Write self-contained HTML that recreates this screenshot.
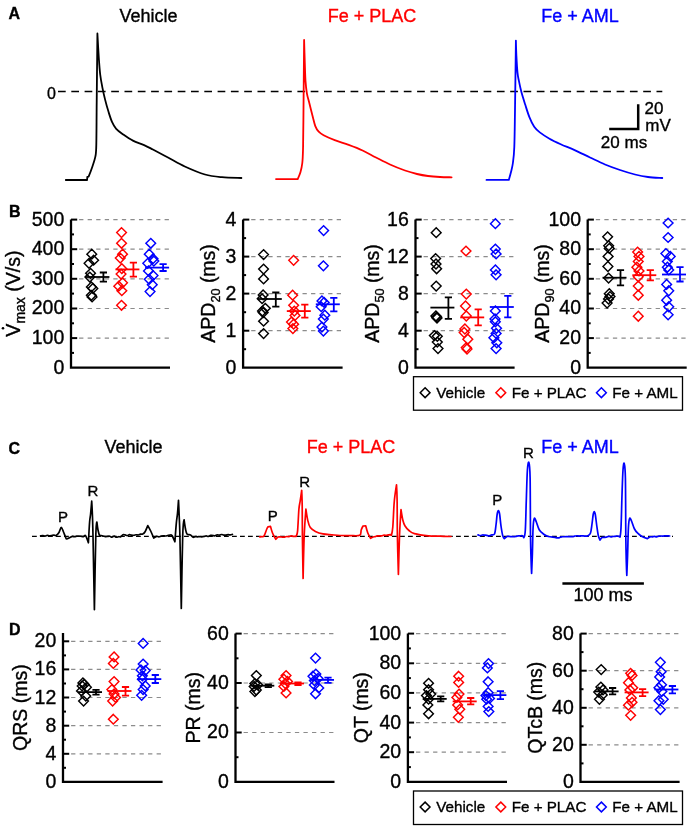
<!DOCTYPE html>
<html><head><meta charset="utf-8"><style>
html,body{margin:0;padding:0;background:#fff;}
svg{display:block;font-family:"Liberation Sans",sans-serif;will-change:transform;}
</style></head><body>
<svg width="689" height="827" viewBox="0 0 689 827">
<rect width="689" height="827" fill="#fff"/>
<text x="8.6" y="19.2" font-size="16" fill="#000" stroke="#000" stroke-width="0.35" text-anchor="start" font-weight="bold" >A</text>
<text x="148.5" y="22" font-size="18" fill="#000" stroke="#000" stroke-width="0.35" text-anchor="middle" font-weight="normal" >Vehicle</text>
<text x="372" y="22" font-size="18" fill="#ff0000" stroke="#ff0000" stroke-width="0.35" text-anchor="middle" font-weight="normal" >Fe + PLAC</text>
<text x="580" y="22" font-size="18" fill="#0000ff" stroke="#0000ff" stroke-width="0.35" text-anchor="middle" font-weight="normal" >Fe + AML</text>
<text x="51.5" y="98.5" font-size="16" fill="#000" stroke="#000" stroke-width="0.35" text-anchor="middle" font-weight="normal" >0</text>
<line x1="58" y1="91.6" x2="662.3" y2="91.6" stroke="#000" stroke-width="1.5" stroke-dasharray="7.7 5.6"/>
<path d="M65.80 180.00C65.80 180.00 87.10 180.00 87.10 180.00C87.10 180.00 87.30 177.00 87.30 177.00C87.30 177.00 88.60 176.70 88.60 176.70C88.60 176.70 90.77 171.38 91.90 168.00C93.03 164.62 94.67 160.27 95.40 156.40C96.13 152.53 96.08 153.82 96.30 144.80C96.52 135.78 96.52 120.85 96.70 102.30C96.88 83.75 97.40 33.50 97.40 33.50C97.40 33.50 98.33 50.97 98.80 57.80C99.27 64.63 99.62 69.62 100.20 74.50C100.78 79.38 101.48 82.92 102.30 87.10C103.12 91.28 104.05 95.43 105.10 99.60C106.15 103.77 107.45 108.40 108.60 112.10C109.75 115.80 110.73 119.02 112.00 121.80C113.27 124.58 114.33 126.70 116.20 128.80C118.07 130.90 120.42 132.43 123.20 134.40C125.98 136.37 129.42 138.82 132.90 140.60C136.38 142.38 140.77 143.62 144.10 145.10C147.43 146.58 148.92 147.43 152.90 149.50C156.88 151.57 162.68 154.67 168.00 157.50C173.32 160.33 178.63 163.67 184.80 166.50C190.97 169.33 198.80 172.72 205.00 174.50C211.20 176.28 215.93 176.62 222.00 177.20C228.07 177.78 238.17 177.87 241.40 178.00" fill="none" stroke="#000000" stroke-width="1.8" stroke-linejoin="round" stroke-linecap="round"/>
<path d="M276.00 179.10C276.00 179.10 297.70 179.10 297.70 179.10C297.70 179.10 299.73 174.68 300.50 172.00C301.27 169.32 301.88 166.67 302.30 163.00C302.72 159.33 302.82 157.17 303.00 150.00C303.18 142.83 303.22 138.35 303.40 120.00C303.58 101.65 304.10 39.90 304.10 39.90C304.10 39.90 304.57 55.97 304.80 62.80C305.03 69.63 305.15 75.80 305.50 80.90C305.85 86.00 306.32 89.92 306.90 93.40C307.48 96.88 308.07 98.08 309.00 101.80C309.93 105.52 311.45 111.65 312.50 115.70C313.55 119.75 314.27 123.43 315.30 126.10C316.33 128.77 317.32 130.18 318.70 131.70C320.08 133.22 320.93 133.80 323.60 135.20C326.27 136.60 330.52 138.48 334.70 140.10C338.88 141.72 344.05 143.17 348.70 144.90C353.35 146.63 358.05 148.40 362.60 150.50C367.15 152.60 371.43 155.17 376.00 157.50C380.57 159.83 385.17 162.33 390.00 164.50C394.83 166.67 400.50 168.92 405.00 170.50C409.50 172.08 413.17 173.08 417.00 174.00C420.83 174.92 424.17 175.50 428.00 176.00C431.83 176.50 436.07 176.78 440.00 177.00C443.93 177.22 449.67 177.25 451.60 177.30" fill="none" stroke="#ff0000" stroke-width="1.8" stroke-linejoin="round" stroke-linecap="round"/>
<path d="M486.50 179.90C486.50 179.90 508.80 179.90 508.80 179.90C508.80 179.90 510.32 174.82 511.00 172.00C511.68 169.18 512.35 167.17 512.90 163.00C513.45 158.83 513.95 155.83 514.30 147.00C514.65 138.17 514.73 127.73 515.00 110.00C515.27 92.27 515.90 40.60 515.90 40.60C515.90 40.60 516.13 50.57 516.40 55.90C516.67 61.23 517.08 68.43 517.50 72.60C517.92 76.77 518.25 77.65 518.90 80.90C519.55 84.15 520.35 88.15 521.40 92.10C522.45 96.05 523.87 100.43 525.20 104.60C526.53 108.77 527.90 113.40 529.40 117.10C530.90 120.80 532.47 124.25 534.20 126.80C535.93 129.35 537.25 130.42 539.80 132.40C542.35 134.38 546.02 136.73 549.50 138.70C552.98 140.67 556.52 142.30 560.70 144.20C564.88 146.10 569.72 147.88 574.60 150.10C579.48 152.32 584.93 155.10 590.00 157.50C595.07 159.90 600.00 162.42 605.00 164.50C610.00 166.58 615.00 168.33 620.00 170.00C625.00 171.67 630.33 173.33 635.00 174.50C639.67 175.67 643.45 176.42 648.00 177.00C652.55 177.58 659.92 177.83 662.30 178.00" fill="none" stroke="#0000ff" stroke-width="1.8" stroke-linejoin="round" stroke-linecap="round"/>
<path d="M609.2 129 H638.2 V104.3" fill="none" stroke="#000" stroke-width="2.5"/>
<text x="654" y="114" font-size="17" fill="#000" stroke="#000" stroke-width="0.35" text-anchor="middle" font-weight="normal" >20</text>
<text x="658" y="131" font-size="17" fill="#000" stroke="#000" stroke-width="0.35" text-anchor="middle" font-weight="normal" >mV</text>
<text x="624" y="147.5" font-size="17" fill="#000" stroke="#000" stroke-width="0.35" text-anchor="middle" font-weight="normal" >20 ms</text>
<line x1="79.1" y1="338.1" x2="170.0" y2="338.1" stroke="#8c8c8c" stroke-width="1.2" stroke-dasharray="4.3 4.25"/>
<line x1="79.1" y1="308.5" x2="170.0" y2="308.5" stroke="#8c8c8c" stroke-width="1.2" stroke-dasharray="4.3 4.25"/>
<line x1="79.1" y1="278.8" x2="170.0" y2="278.8" stroke="#8c8c8c" stroke-width="1.2" stroke-dasharray="4.3 4.25"/>
<line x1="79.1" y1="249.2" x2="170.0" y2="249.2" stroke="#8c8c8c" stroke-width="1.2" stroke-dasharray="4.3 4.25"/>
<line x1="79.1" y1="219.6" x2="170.0" y2="219.6" stroke="#8c8c8c" stroke-width="1.2" stroke-dasharray="4.3 4.25"/>
<path d="M91.8 249.3L96.6 254.2L91.8 259.0L86.9 254.2Z" fill="none" stroke="#000000" stroke-width="1.45"/>
<path d="M93.6 255.4L98.5 260.3L93.6 265.1L88.8 260.3Z" fill="none" stroke="#000000" stroke-width="1.45"/>
<path d="M89.0 258.5L93.9 263.3L89.0 268.2L84.2 263.3Z" fill="none" stroke="#000000" stroke-width="1.45"/>
<path d="M90.6 268.4L95.4 273.2L90.6 278.1L85.7 273.2Z" fill="none" stroke="#000000" stroke-width="1.45"/>
<path d="M89.8 272.2L94.7 277.1L89.8 281.9L85.0 277.1Z" fill="none" stroke="#000000" stroke-width="1.45"/>
<path d="M91.3 282.1L96.2 287.0L91.3 291.8L86.5 287.0Z" fill="none" stroke="#000000" stroke-width="1.45"/>
<path d="M92.9 283.6L97.7 288.5L92.9 293.3L88.0 288.5Z" fill="none" stroke="#000000" stroke-width="1.45"/>
<path d="M91.3 290.5L96.2 295.3L91.3 300.2L86.5 295.3Z" fill="none" stroke="#000000" stroke-width="1.45"/>
<path d="M92.1 292.0L96.9 296.9L92.1 301.7L87.2 296.9Z" fill="none" stroke="#000000" stroke-width="1.45"/>
<line x1="85.4" y1="277.0" x2="109.4" y2="277.0" stroke="#000000" stroke-width="1.8"/>
<path d="M103.4 272.5V281.6M99.8 272.5H107.0M99.8 281.6H107.0" stroke="#000000" stroke-width="1.8" fill="none"/>
<path d="M121.5 227.7L126.4 232.6L121.5 237.4L116.7 232.6Z" fill="none" stroke="#ff0000" stroke-width="1.45"/>
<path d="M121.5 238.4L126.4 243.2L121.5 248.1L116.7 243.2Z" fill="none" stroke="#ff0000" stroke-width="1.45"/>
<path d="M122.6 249.3L127.4 254.2L122.6 259.0L117.7 254.2Z" fill="none" stroke="#ff0000" stroke-width="1.45"/>
<path d="M120.3 253.2L125.1 258.0L120.3 262.9L115.4 258.0Z" fill="none" stroke="#ff0000" stroke-width="1.45"/>
<path d="M121.8 263.8L126.7 268.7L121.8 273.5L117.0 268.7Z" fill="none" stroke="#ff0000" stroke-width="1.45"/>
<path d="M121.1 269.2L125.9 274.0L121.1 278.9L116.2 274.0Z" fill="none" stroke="#ff0000" stroke-width="1.45"/>
<path d="M122.6 278.0L127.4 282.8L122.6 287.7L117.7 282.8Z" fill="none" stroke="#ff0000" stroke-width="1.45"/>
<path d="M118.8 281.3L123.6 286.2L118.8 291.0L113.9 286.2Z" fill="none" stroke="#ff0000" stroke-width="1.45"/>
<path d="M121.8 285.9L126.7 290.8L121.8 295.6L117.0 290.8Z" fill="none" stroke="#ff0000" stroke-width="1.45"/>
<path d="M121.5 300.4L126.4 305.2L121.5 310.1L116.7 305.2Z" fill="none" stroke="#ff0000" stroke-width="1.45"/>
<line x1="115.4" y1="269.4" x2="139.4" y2="269.4" stroke="#ff0000" stroke-width="1.8"/>
<path d="M133.4 262.6V276.7M129.8 262.6H137.0M129.8 276.7H137.0" stroke="#ff0000" stroke-width="1.8" fill="none"/>
<path d="M150.8 238.4L155.6 243.2L150.8 248.1L145.9 243.2Z" fill="none" stroke="#0000ff" stroke-width="1.45"/>
<path d="M149.2 249.3L154.1 254.2L149.2 259.0L144.4 254.2Z" fill="none" stroke="#0000ff" stroke-width="1.45"/>
<path d="M153.1 253.9L157.9 258.8L153.1 263.6L148.2 258.8Z" fill="none" stroke="#0000ff" stroke-width="1.45"/>
<path d="M147.7 258.5L152.6 263.3L147.7 268.2L142.9 263.3Z" fill="none" stroke="#0000ff" stroke-width="1.45"/>
<path d="M153.8 256.2L158.7 261.1L153.8 265.9L149.0 261.1Z" fill="none" stroke="#0000ff" stroke-width="1.45"/>
<path d="M148.5 266.1L153.3 271.0L148.5 275.8L143.6 271.0Z" fill="none" stroke="#0000ff" stroke-width="1.45"/>
<path d="M153.1 270.7L157.9 275.5L153.1 280.4L148.2 275.5Z" fill="none" stroke="#0000ff" stroke-width="1.45"/>
<path d="M149.2 274.5L154.1 279.3L149.2 284.2L144.4 279.3Z" fill="none" stroke="#0000ff" stroke-width="1.45"/>
<path d="M152.3 279.8L157.1 284.7L152.3 289.5L147.4 284.7Z" fill="none" stroke="#0000ff" stroke-width="1.45"/>
<path d="M150.0 286.7L154.9 291.5L150.0 296.4L145.2 291.5Z" fill="none" stroke="#0000ff" stroke-width="1.45"/>
<line x1="145.1" y1="267.6" x2="169.1" y2="267.6" stroke="#0000ff" stroke-width="1.8"/>
<path d="M163.1 264.1V271.0M159.5 264.1H166.7M159.5 271.0H166.7" stroke="#0000ff" stroke-width="1.8" fill="none"/>
<path d="M71.0 219.6V367.7H170.0" fill="none" stroke="#000" stroke-width="2.3"/>
<text x="64.3" y="373.7" font-size="19.5" fill="#000" stroke="#000" stroke-width="0.35" text-anchor="end" font-weight="normal" >0</text>
<line x1="71.0" y1="338.1" x2="77.2" y2="338.1" stroke="#000" stroke-width="2"/>
<text x="64.3" y="344.08" font-size="19.5" fill="#000" stroke="#000" stroke-width="0.35" text-anchor="end" font-weight="normal" >100</text>
<line x1="71.0" y1="308.5" x2="77.2" y2="308.5" stroke="#000" stroke-width="2"/>
<text x="64.3" y="314.46" font-size="19.5" fill="#000" stroke="#000" stroke-width="0.35" text-anchor="end" font-weight="normal" >200</text>
<line x1="71.0" y1="278.8" x2="77.2" y2="278.8" stroke="#000" stroke-width="2"/>
<text x="64.3" y="284.84000000000003" font-size="19.5" fill="#000" stroke="#000" stroke-width="0.35" text-anchor="end" font-weight="normal" >300</text>
<line x1="71.0" y1="249.2" x2="77.2" y2="249.2" stroke="#000" stroke-width="2"/>
<text x="64.3" y="255.22" font-size="19.5" fill="#000" stroke="#000" stroke-width="0.35" text-anchor="end" font-weight="normal" >400</text>
<line x1="71.0" y1="219.6" x2="77.2" y2="219.6" stroke="#000" stroke-width="2"/>
<text x="64.3" y="225.6" font-size="19.5" fill="#000" stroke="#000" stroke-width="0.35" text-anchor="end" font-weight="normal" >500</text>
<line x1="71.0" y1="352.9" x2="74.0" y2="352.9" stroke="#000" stroke-width="2"/>
<line x1="71.0" y1="323.3" x2="74.0" y2="323.3" stroke="#000" stroke-width="2"/>
<line x1="71.0" y1="293.6" x2="74.0" y2="293.6" stroke="#000" stroke-width="2"/>
<line x1="71.0" y1="264.0" x2="74.0" y2="264.0" stroke="#000" stroke-width="2"/>
<line x1="71.0" y1="234.4" x2="74.0" y2="234.4" stroke="#000" stroke-width="2"/>
<line x1="251.2" y1="330.7" x2="342.6" y2="330.7" stroke="#8c8c8c" stroke-width="1.2" stroke-dasharray="4.3 4.25"/>
<line x1="251.2" y1="293.6" x2="342.6" y2="293.6" stroke="#8c8c8c" stroke-width="1.2" stroke-dasharray="4.3 4.25"/>
<line x1="251.2" y1="256.6" x2="342.6" y2="256.6" stroke="#8c8c8c" stroke-width="1.2" stroke-dasharray="4.3 4.25"/>
<line x1="251.2" y1="219.6" x2="342.6" y2="219.6" stroke="#8c8c8c" stroke-width="1.2" stroke-dasharray="4.3 4.25"/>
<path d="M263.6 249.7L268.4 254.5L263.6 259.4L258.7 254.5Z" fill="none" stroke="#000000" stroke-width="1.45"/>
<path d="M263.6 264.2L268.4 269.0L263.6 273.9L258.7 269.0Z" fill="none" stroke="#000000" stroke-width="1.45"/>
<path d="M263.6 274.0L268.4 278.9L263.6 283.7L258.7 278.9Z" fill="none" stroke="#000000" stroke-width="1.45"/>
<path d="M263.1 290.0L268.0 294.9L263.1 299.7L258.3 294.9Z" fill="none" stroke="#000000" stroke-width="1.45"/>
<path d="M262.1 293.9L267.0 298.8L262.1 303.6L257.3 298.8Z" fill="none" stroke="#000000" stroke-width="1.45"/>
<path d="M265.3 303.4L270.2 308.2L265.3 313.1L260.5 308.2Z" fill="none" stroke="#000000" stroke-width="1.45"/>
<path d="M262.4 306.3L267.3 311.1L262.4 316.0L257.6 311.1Z" fill="none" stroke="#000000" stroke-width="1.45"/>
<path d="M263.1 307.7L268.0 312.6L263.1 317.4L258.3 312.6Z" fill="none" stroke="#000000" stroke-width="1.45"/>
<path d="M263.6 316.4L268.4 321.3L263.6 326.1L258.7 321.3Z" fill="none" stroke="#000000" stroke-width="1.45"/>
<path d="M263.6 328.8L268.4 333.6L263.6 338.5L258.7 333.6Z" fill="none" stroke="#000000" stroke-width="1.45"/>
<line x1="257.8" y1="299.0" x2="281.8" y2="299.0" stroke="#000000" stroke-width="1.8"/>
<path d="M275.8 292.5V306.6M272.2 292.5H279.4M272.2 306.6H279.4" stroke="#000000" stroke-width="1.8" fill="none"/>
<path d="M293.6 255.5L298.5 260.3L293.6 265.2L288.8 260.3Z" fill="none" stroke="#ff0000" stroke-width="1.45"/>
<path d="M292.6 290.3L297.5 295.2L292.6 300.0L287.8 295.2Z" fill="none" stroke="#ff0000" stroke-width="1.45"/>
<path d="M293.6 300.5L298.5 305.3L293.6 310.2L288.8 305.3Z" fill="none" stroke="#ff0000" stroke-width="1.45"/>
<path d="M294.3 306.3L299.2 311.1L294.3 316.0L289.5 311.1Z" fill="none" stroke="#ff0000" stroke-width="1.45"/>
<path d="M295.1 310.6L299.9 315.5L295.1 320.3L290.2 315.5Z" fill="none" stroke="#ff0000" stroke-width="1.45"/>
<path d="M291.4 317.2L296.3 322.0L291.4 326.9L286.6 322.0Z" fill="none" stroke="#ff0000" stroke-width="1.45"/>
<path d="M293.6 319.3L298.5 324.2L293.6 329.0L288.8 324.2Z" fill="none" stroke="#ff0000" stroke-width="1.45"/>
<path d="M292.9 323.7L297.7 328.5L292.9 333.4L288.0 328.5Z" fill="none" stroke="#ff0000" stroke-width="1.45"/>
<line x1="286.8" y1="311.1" x2="310.8" y2="311.1" stroke="#ff0000" stroke-width="1.8"/>
<path d="M304.8 304.6V317.6M301.2 304.6H308.4M301.2 317.6H308.4" stroke="#ff0000" stroke-width="1.8" fill="none"/>
<path d="M323.6 225.8L328.5 230.6L323.6 235.4L318.8 230.6Z" fill="none" stroke="#0000ff" stroke-width="1.45"/>
<path d="M323.4 261.0L328.2 265.8L323.4 270.7L318.5 265.8Z" fill="none" stroke="#0000ff" stroke-width="1.45"/>
<path d="M321.9 296.1L326.8 301.0L321.9 305.8L317.1 301.0Z" fill="none" stroke="#0000ff" stroke-width="1.45"/>
<path d="M324.1 297.6L329.0 302.4L324.1 307.3L319.3 302.4Z" fill="none" stroke="#0000ff" stroke-width="1.45"/>
<path d="M321.2 301.9L326.0 306.8L321.2 311.6L316.3 306.8Z" fill="none" stroke="#0000ff" stroke-width="1.45"/>
<path d="M324.8 310.3L329.7 315.2L324.8 320.0L320.0 315.2Z" fill="none" stroke="#0000ff" stroke-width="1.45"/>
<path d="M323.4 314.3L328.2 319.1L323.4 324.0L318.5 319.1Z" fill="none" stroke="#0000ff" stroke-width="1.45"/>
<path d="M321.9 322.2L326.8 327.1L321.9 331.9L317.1 327.1Z" fill="none" stroke="#0000ff" stroke-width="1.45"/>
<path d="M323.4 326.3L328.2 331.1L323.4 336.0L318.5 331.1Z" fill="none" stroke="#0000ff" stroke-width="1.45"/>
<line x1="315.8" y1="304.3" x2="339.8" y2="304.3" stroke="#0000ff" stroke-width="1.8"/>
<path d="M333.8 297.8V311.4M330.2 297.8H337.4M330.2 311.4H337.4" stroke="#0000ff" stroke-width="1.8" fill="none"/>
<path d="M243.1 219.6V367.7H342.6" fill="none" stroke="#000" stroke-width="2.3"/>
<text x="236.4" y="373.7" font-size="19.5" fill="#000" stroke="#000" stroke-width="0.35" text-anchor="end" font-weight="normal" >0</text>
<line x1="243.1" y1="330.7" x2="249.3" y2="330.7" stroke="#000" stroke-width="2"/>
<text x="236.4" y="336.675" font-size="19.5" fill="#000" stroke="#000" stroke-width="0.35" text-anchor="end" font-weight="normal" >1</text>
<line x1="243.1" y1="293.6" x2="249.3" y2="293.6" stroke="#000" stroke-width="2"/>
<text x="236.4" y="299.65" font-size="19.5" fill="#000" stroke="#000" stroke-width="0.35" text-anchor="end" font-weight="normal" >2</text>
<line x1="243.1" y1="256.6" x2="249.3" y2="256.6" stroke="#000" stroke-width="2"/>
<text x="236.4" y="262.625" font-size="19.5" fill="#000" stroke="#000" stroke-width="0.35" text-anchor="end" font-weight="normal" >3</text>
<line x1="243.1" y1="219.6" x2="249.3" y2="219.6" stroke="#000" stroke-width="2"/>
<text x="236.4" y="225.6" font-size="19.5" fill="#000" stroke="#000" stroke-width="0.35" text-anchor="end" font-weight="normal" >4</text>
<line x1="243.1" y1="349.2" x2="246.1" y2="349.2" stroke="#000" stroke-width="2"/>
<line x1="243.1" y1="312.2" x2="246.1" y2="312.2" stroke="#000" stroke-width="2"/>
<line x1="243.1" y1="275.1" x2="246.1" y2="275.1" stroke="#000" stroke-width="2"/>
<line x1="243.1" y1="238.1" x2="246.1" y2="238.1" stroke="#000" stroke-width="2"/>
<line x1="423.6" y1="330.7" x2="514.6" y2="330.7" stroke="#8c8c8c" stroke-width="1.2" stroke-dasharray="4.3 4.25"/>
<line x1="423.6" y1="293.6" x2="514.6" y2="293.6" stroke="#8c8c8c" stroke-width="1.2" stroke-dasharray="4.3 4.25"/>
<line x1="423.6" y1="256.6" x2="514.6" y2="256.6" stroke="#8c8c8c" stroke-width="1.2" stroke-dasharray="4.3 4.25"/>
<line x1="423.6" y1="219.6" x2="514.6" y2="219.6" stroke="#8c8c8c" stroke-width="1.2" stroke-dasharray="4.3 4.25"/>
<path d="M436.2 227.8L441.1 232.7L436.2 237.5L431.3 232.7Z" fill="none" stroke="#000000" stroke-width="1.45"/>
<path d="M435.6 253.7L440.5 258.5L435.6 263.4L430.8 258.5Z" fill="none" stroke="#000000" stroke-width="1.45"/>
<path d="M436.0 259.1L440.9 264.0L436.0 268.9L431.1 264.0Z" fill="none" stroke="#000000" stroke-width="1.45"/>
<path d="M436.6 263.8L441.5 268.7L436.6 273.6L431.8 268.7Z" fill="none" stroke="#000000" stroke-width="1.45"/>
<path d="M436.2 281.2L441.1 286.1L436.2 291.0L431.3 286.1Z" fill="none" stroke="#000000" stroke-width="1.45"/>
<path d="M435.9 311.1L440.8 316.0L435.9 320.9L431.0 316.0Z" fill="none" stroke="#000000" stroke-width="1.45"/>
<path d="M436.6 312.2L441.5 317.1L436.6 322.0L431.8 317.1Z" fill="none" stroke="#000000" stroke-width="1.45"/>
<path d="M437.0 313.2L441.9 318.1L437.0 323.0L432.1 318.1Z" fill="none" stroke="#000000" stroke-width="1.45"/>
<path d="M434.4 330.8L439.2 335.6L434.4 340.5L429.5 335.6Z" fill="none" stroke="#000000" stroke-width="1.45"/>
<path d="M437.3 331.4L442.2 336.3L437.3 341.2L432.4 336.3Z" fill="none" stroke="#000000" stroke-width="1.45"/>
<path d="M437.3 337.2L442.2 342.1L437.3 347.0L432.4 342.1Z" fill="none" stroke="#000000" stroke-width="1.45"/>
<path d="M438.0 343.8L442.9 348.6L438.0 353.5L433.1 348.6Z" fill="none" stroke="#000000" stroke-width="1.45"/>
<line x1="430.4" y1="307.6" x2="454.4" y2="307.6" stroke="#000000" stroke-width="1.8"/>
<path d="M448.4 297.4V318.9M444.8 297.4H452.0M444.8 318.9H452.0" stroke="#000000" stroke-width="1.8" fill="none"/>
<path d="M466.0 246.2L470.9 251.0L466.0 255.8L461.1 251.0Z" fill="none" stroke="#ff0000" stroke-width="1.45"/>
<path d="M466.3 289.2L471.2 294.1L466.3 299.0L461.4 294.1Z" fill="none" stroke="#ff0000" stroke-width="1.45"/>
<path d="M465.5 301.1L470.4 306.0L465.5 310.9L460.6 306.0Z" fill="none" stroke="#ff0000" stroke-width="1.45"/>
<path d="M466.3 311.1L471.2 316.0L466.3 320.9L461.4 316.0Z" fill="none" stroke="#ff0000" stroke-width="1.45"/>
<path d="M464.9 324.1L469.8 329.0L464.9 333.9L460.0 329.0Z" fill="none" stroke="#ff0000" stroke-width="1.45"/>
<path d="M464.2 327.6L469.1 332.5L464.2 337.4L459.3 332.5Z" fill="none" stroke="#ff0000" stroke-width="1.45"/>
<path d="M467.8 334.3L472.7 339.2L467.8 344.1L462.9 339.2Z" fill="none" stroke="#ff0000" stroke-width="1.45"/>
<path d="M466.3 342.8L471.2 347.6L466.3 352.5L461.4 347.6Z" fill="none" stroke="#ff0000" stroke-width="1.45"/>
<path d="M467.0 344.1L471.9 349.0L467.0 353.9L462.1 349.0Z" fill="none" stroke="#ff0000" stroke-width="1.45"/>
<line x1="460.2" y1="317.4" x2="484.2" y2="317.4" stroke="#ff0000" stroke-width="1.8"/>
<path d="M478.2 309.4V325.4M474.6 309.4H481.8M474.6 325.4H481.8" stroke="#ff0000" stroke-width="1.8" fill="none"/>
<path d="M495.4 218.8L500.2 223.7L495.4 228.5L490.5 223.7Z" fill="none" stroke="#0000ff" stroke-width="1.45"/>
<path d="M495.4 244.2L500.2 249.1L495.4 253.9L490.5 249.1Z" fill="none" stroke="#0000ff" stroke-width="1.45"/>
<path d="M496.1 249.1L501.0 253.9L496.1 258.8L491.2 253.9Z" fill="none" stroke="#0000ff" stroke-width="1.45"/>
<path d="M495.4 265.0L500.2 269.9L495.4 274.8L490.5 269.9Z" fill="none" stroke="#0000ff" stroke-width="1.45"/>
<path d="M496.1 269.9L501.0 274.8L496.1 279.7L491.2 274.8Z" fill="none" stroke="#0000ff" stroke-width="1.45"/>
<path d="M495.4 306.0L500.2 310.9L495.4 315.8L490.5 310.9Z" fill="none" stroke="#0000ff" stroke-width="1.45"/>
<path d="M495.0 314.1L499.9 319.0L495.0 323.9L490.1 319.0Z" fill="none" stroke="#0000ff" stroke-width="1.45"/>
<path d="M495.4 316.9L500.2 321.8L495.4 326.7L490.5 321.8Z" fill="none" stroke="#0000ff" stroke-width="1.45"/>
<path d="M496.5 323.4L501.4 328.3L496.5 333.2L491.6 328.3Z" fill="none" stroke="#0000ff" stroke-width="1.45"/>
<path d="M496.1 328.5L501.0 333.4L496.1 338.2L491.2 333.4Z" fill="none" stroke="#0000ff" stroke-width="1.45"/>
<path d="M493.9 332.8L498.8 337.7L493.9 342.6L489.0 337.7Z" fill="none" stroke="#0000ff" stroke-width="1.45"/>
<path d="M496.8 337.9L501.7 342.8L496.8 347.7L491.9 342.8Z" fill="none" stroke="#0000ff" stroke-width="1.45"/>
<path d="M496.1 343.8L501.0 348.6L496.1 353.5L491.2 348.6Z" fill="none" stroke="#0000ff" stroke-width="1.45"/>
<line x1="489.8" y1="307.0" x2="513.8" y2="307.0" stroke="#0000ff" stroke-width="1.8"/>
<path d="M507.8 295.8V317.4M504.2 295.8H511.4M504.2 317.4H511.4" stroke="#0000ff" stroke-width="1.8" fill="none"/>
<path d="M415.5 219.6V367.7H514.6" fill="none" stroke="#000" stroke-width="2.3"/>
<text x="408.8" y="373.7" font-size="19.5" fill="#000" stroke="#000" stroke-width="0.35" text-anchor="end" font-weight="normal" >0</text>
<line x1="415.5" y1="330.7" x2="421.7" y2="330.7" stroke="#000" stroke-width="2"/>
<text x="408.8" y="336.675" font-size="19.5" fill="#000" stroke="#000" stroke-width="0.35" text-anchor="end" font-weight="normal" >4</text>
<line x1="415.5" y1="293.6" x2="421.7" y2="293.6" stroke="#000" stroke-width="2"/>
<text x="408.8" y="299.65" font-size="19.5" fill="#000" stroke="#000" stroke-width="0.35" text-anchor="end" font-weight="normal" >8</text>
<line x1="415.5" y1="256.6" x2="421.7" y2="256.6" stroke="#000" stroke-width="2"/>
<text x="408.8" y="262.625" font-size="19.5" fill="#000" stroke="#000" stroke-width="0.35" text-anchor="end" font-weight="normal" >12</text>
<line x1="415.5" y1="219.6" x2="421.7" y2="219.6" stroke="#000" stroke-width="2"/>
<text x="408.8" y="225.6" font-size="19.5" fill="#000" stroke="#000" stroke-width="0.35" text-anchor="end" font-weight="normal" >16</text>
<line x1="415.5" y1="349.2" x2="418.5" y2="349.2" stroke="#000" stroke-width="2"/>
<line x1="415.5" y1="312.2" x2="418.5" y2="312.2" stroke="#000" stroke-width="2"/>
<line x1="415.5" y1="275.1" x2="418.5" y2="275.1" stroke="#000" stroke-width="2"/>
<line x1="415.5" y1="238.1" x2="418.5" y2="238.1" stroke="#000" stroke-width="2"/>
<line x1="595.8" y1="338.1" x2="686.7" y2="338.1" stroke="#8c8c8c" stroke-width="1.2" stroke-dasharray="4.3 4.25"/>
<line x1="595.8" y1="308.5" x2="686.7" y2="308.5" stroke="#8c8c8c" stroke-width="1.2" stroke-dasharray="4.3 4.25"/>
<line x1="595.8" y1="278.8" x2="686.7" y2="278.8" stroke="#8c8c8c" stroke-width="1.2" stroke-dasharray="4.3 4.25"/>
<line x1="595.8" y1="249.2" x2="686.7" y2="249.2" stroke="#8c8c8c" stroke-width="1.2" stroke-dasharray="4.3 4.25"/>
<line x1="595.8" y1="219.6" x2="686.7" y2="219.6" stroke="#8c8c8c" stroke-width="1.2" stroke-dasharray="4.3 4.25"/>
<path d="M607.6 232.0L612.5 236.8L607.6 241.7L602.8 236.8Z" fill="none" stroke="#000000" stroke-width="1.45"/>
<path d="M608.6 241.0L613.5 245.8L608.6 250.7L603.8 245.8Z" fill="none" stroke="#000000" stroke-width="1.45"/>
<path d="M609.3 243.6L614.1 248.4L609.3 253.2L604.4 248.4Z" fill="none" stroke="#000000" stroke-width="1.45"/>
<path d="M608.1 251.5L613.0 256.4L608.1 261.2L603.2 256.4Z" fill="none" stroke="#000000" stroke-width="1.45"/>
<path d="M607.9 261.6L612.8 266.5L607.9 271.4L603.0 266.5Z" fill="none" stroke="#000000" stroke-width="1.45"/>
<path d="M608.6 273.2L613.5 278.1L608.6 283.0L603.8 278.1Z" fill="none" stroke="#000000" stroke-width="1.45"/>
<path d="M609.3 288.8L614.1 293.7L609.3 298.6L604.4 293.7Z" fill="none" stroke="#000000" stroke-width="1.45"/>
<path d="M610.0 291.8L614.9 296.6L610.0 301.5L605.1 296.6Z" fill="none" stroke="#000000" stroke-width="1.45"/>
<path d="M608.5 294.1L613.4 299.0L608.5 303.9L603.6 299.0Z" fill="none" stroke="#000000" stroke-width="1.45"/>
<path d="M607.1 298.2L612.0 303.1L607.1 308.0L602.2 303.1Z" fill="none" stroke="#000000" stroke-width="1.45"/>
<line x1="602.5" y1="277.7" x2="626.5" y2="277.7" stroke="#000000" stroke-width="1.8"/>
<path d="M620.5 270.2V285.4M616.9 270.2H624.1M616.9 285.4H624.1" stroke="#000000" stroke-width="1.8" fill="none"/>
<path d="M637.6 247.2L642.5 252.0L637.6 256.9L632.8 252.0Z" fill="none" stroke="#ff0000" stroke-width="1.45"/>
<path d="M639.0 251.5L643.9 256.4L639.0 261.2L634.1 256.4Z" fill="none" stroke="#ff0000" stroke-width="1.45"/>
<path d="M638.3 256.5L643.1 261.4L638.3 266.2L633.4 261.4Z" fill="none" stroke="#ff0000" stroke-width="1.45"/>
<path d="M636.9 262.3L641.8 267.2L636.9 272.1L632.0 267.2Z" fill="none" stroke="#ff0000" stroke-width="1.45"/>
<path d="M639.0 266.0L643.9 270.9L639.0 275.8L634.1 270.9Z" fill="none" stroke="#ff0000" stroke-width="1.45"/>
<path d="M638.3 271.8L643.1 276.7L638.3 281.6L633.4 276.7Z" fill="none" stroke="#ff0000" stroke-width="1.45"/>
<path d="M638.3 281.2L643.1 286.1L638.3 291.0L633.4 286.1Z" fill="none" stroke="#ff0000" stroke-width="1.45"/>
<path d="M638.3 290.3L643.1 295.2L638.3 300.1L633.4 295.2Z" fill="none" stroke="#ff0000" stroke-width="1.45"/>
<path d="M638.3 311.3L643.1 316.2L638.3 321.1L633.4 316.2Z" fill="none" stroke="#ff0000" stroke-width="1.45"/>
<line x1="632.3" y1="275.2" x2="656.3" y2="275.2" stroke="#ff0000" stroke-width="1.8"/>
<path d="M650.3 270.2V280.3M646.7 270.2H653.9M646.7 280.3H653.9" stroke="#ff0000" stroke-width="1.8" fill="none"/>
<path d="M668.1 218.2L673.0 223.0L668.1 227.8L663.2 223.0Z" fill="none" stroke="#0000ff" stroke-width="1.45"/>
<path d="M668.1 232.7L673.0 237.5L668.1 242.3L663.2 237.5Z" fill="none" stroke="#0000ff" stroke-width="1.45"/>
<path d="M665.9 248.7L670.8 253.5L665.9 258.4L661.0 253.5Z" fill="none" stroke="#0000ff" stroke-width="1.45"/>
<path d="M670.3 251.5L675.1 256.4L670.3 261.2L665.4 256.4Z" fill="none" stroke="#0000ff" stroke-width="1.45"/>
<path d="M667.4 256.5L672.2 261.4L667.4 266.2L662.5 261.4Z" fill="none" stroke="#0000ff" stroke-width="1.45"/>
<path d="M667.4 262.3L672.2 267.2L667.4 272.1L662.5 267.2Z" fill="none" stroke="#0000ff" stroke-width="1.45"/>
<path d="M668.8 265.0L673.6 269.9L668.8 274.8L663.9 269.9Z" fill="none" stroke="#0000ff" stroke-width="1.45"/>
<path d="M666.6 279.5L671.5 284.4L666.6 289.2L661.8 284.4Z" fill="none" stroke="#0000ff" stroke-width="1.45"/>
<path d="M668.8 285.9L673.6 290.8L668.8 295.7L663.9 290.8Z" fill="none" stroke="#0000ff" stroke-width="1.45"/>
<path d="M666.6 295.3L671.5 300.2L666.6 305.1L661.8 300.2Z" fill="none" stroke="#0000ff" stroke-width="1.45"/>
<path d="M668.8 301.9L673.6 306.8L668.8 311.7L663.9 306.8Z" fill="none" stroke="#0000ff" stroke-width="1.45"/>
<path d="M668.1 309.9L673.0 314.8L668.1 319.7L663.2 314.8Z" fill="none" stroke="#0000ff" stroke-width="1.45"/>
<line x1="662.0" y1="274.5" x2="686.0" y2="274.5" stroke="#0000ff" stroke-width="1.8"/>
<path d="M680.0 267.2V281.5M676.4 267.2H683.6M676.4 281.5H683.6" stroke="#0000ff" stroke-width="1.8" fill="none"/>
<path d="M587.7 219.6V367.7H686.7" fill="none" stroke="#000" stroke-width="2.3"/>
<text x="581.0" y="373.7" font-size="19.5" fill="#000" stroke="#000" stroke-width="0.35" text-anchor="end" font-weight="normal" >0</text>
<line x1="587.7" y1="338.1" x2="593.9" y2="338.1" stroke="#000" stroke-width="2"/>
<text x="581.0" y="344.08" font-size="19.5" fill="#000" stroke="#000" stroke-width="0.35" text-anchor="end" font-weight="normal" >20</text>
<line x1="587.7" y1="308.5" x2="593.9" y2="308.5" stroke="#000" stroke-width="2"/>
<text x="581.0" y="314.46" font-size="19.5" fill="#000" stroke="#000" stroke-width="0.35" text-anchor="end" font-weight="normal" >40</text>
<line x1="587.7" y1="278.8" x2="593.9" y2="278.8" stroke="#000" stroke-width="2"/>
<text x="581.0" y="284.84000000000003" font-size="19.5" fill="#000" stroke="#000" stroke-width="0.35" text-anchor="end" font-weight="normal" >60</text>
<line x1="587.7" y1="249.2" x2="593.9" y2="249.2" stroke="#000" stroke-width="2"/>
<text x="581.0" y="255.22" font-size="19.5" fill="#000" stroke="#000" stroke-width="0.35" text-anchor="end" font-weight="normal" >80</text>
<line x1="587.7" y1="219.6" x2="593.9" y2="219.6" stroke="#000" stroke-width="2"/>
<text x="581.0" y="225.6" font-size="19.5" fill="#000" stroke="#000" stroke-width="0.35" text-anchor="end" font-weight="normal" >100</text>
<line x1="587.7" y1="352.9" x2="590.7" y2="352.9" stroke="#000" stroke-width="2"/>
<line x1="587.7" y1="323.3" x2="590.7" y2="323.3" stroke="#000" stroke-width="2"/>
<line x1="587.7" y1="293.6" x2="590.7" y2="293.6" stroke="#000" stroke-width="2"/>
<line x1="587.7" y1="264.0" x2="590.7" y2="264.0" stroke="#000" stroke-width="2"/>
<line x1="587.7" y1="234.4" x2="590.7" y2="234.4" stroke="#000" stroke-width="2"/>
<line x1="71.1" y1="753.8" x2="162.6" y2="753.8" stroke="#8c8c8c" stroke-width="1.2" stroke-dasharray="4.3 4.25"/>
<line x1="71.1" y1="725.7" x2="162.6" y2="725.7" stroke="#8c8c8c" stroke-width="1.2" stroke-dasharray="4.3 4.25"/>
<line x1="71.1" y1="697.5" x2="162.6" y2="697.5" stroke="#8c8c8c" stroke-width="1.2" stroke-dasharray="4.3 4.25"/>
<line x1="71.1" y1="669.4" x2="162.6" y2="669.4" stroke="#8c8c8c" stroke-width="1.2" stroke-dasharray="4.3 4.25"/>
<line x1="71.1" y1="641.3" x2="162.6" y2="641.3" stroke="#8c8c8c" stroke-width="1.2" stroke-dasharray="4.3 4.25"/>
<path d="M82.9 678.1L87.7 683.0L82.9 687.8L78.0 683.0Z" fill="none" stroke="#000000" stroke-width="1.45"/>
<path d="M84.3 679.6L89.2 684.4L84.3 689.3L79.5 684.4Z" fill="none" stroke="#000000" stroke-width="1.45"/>
<path d="M82.1 681.0L87.0 685.9L82.1 690.7L77.3 685.9Z" fill="none" stroke="#000000" stroke-width="1.45"/>
<path d="M86.5 682.5L91.3 687.3L86.5 692.2L81.6 687.3Z" fill="none" stroke="#000000" stroke-width="1.45"/>
<path d="M81.4 686.1L86.3 691.0L81.4 695.8L76.6 691.0Z" fill="none" stroke="#000000" stroke-width="1.45"/>
<path d="M85.8 691.2L90.6 696.0L85.8 700.9L80.9 696.0Z" fill="none" stroke="#000000" stroke-width="1.45"/>
<path d="M83.6 696.3L88.4 701.1L83.6 706.0L78.7 701.1Z" fill="none" stroke="#000000" stroke-width="1.45"/>
<line x1="78.0" y1="692.1" x2="102.0" y2="692.1" stroke="#000000" stroke-width="1.8"/>
<path d="M96.0 689.8V694.6M92.4 689.8H99.6M92.4 694.6H99.6" stroke="#000000" stroke-width="1.8" fill="none"/>
<path d="M114.1 652.0L118.9 656.9L114.1 661.7L109.2 656.9Z" fill="none" stroke="#ff0000" stroke-width="1.45"/>
<path d="M113.3 658.5L118.2 663.4L113.3 668.2L108.5 663.4Z" fill="none" stroke="#ff0000" stroke-width="1.45"/>
<path d="M114.1 676.7L118.9 681.5L114.1 686.4L109.2 681.5Z" fill="none" stroke="#ff0000" stroke-width="1.45"/>
<path d="M111.9 684.7L116.7 689.5L111.9 694.4L107.0 689.5Z" fill="none" stroke="#ff0000" stroke-width="1.45"/>
<path d="M114.1 689.0L118.9 693.9L114.1 698.7L109.2 693.9Z" fill="none" stroke="#ff0000" stroke-width="1.45"/>
<path d="M115.5 692.6L120.4 697.5L115.5 702.3L110.7 697.5Z" fill="none" stroke="#ff0000" stroke-width="1.45"/>
<path d="M112.6 696.3L117.5 701.1L112.6 706.0L107.8 701.1Z" fill="none" stroke="#ff0000" stroke-width="1.45"/>
<path d="M113.3 714.4L118.2 719.3L113.3 724.1L108.5 719.3Z" fill="none" stroke="#ff0000" stroke-width="1.45"/>
<line x1="107.5" y1="691.0" x2="131.5" y2="691.0" stroke="#ff0000" stroke-width="1.8"/>
<path d="M125.5 687.0V695.7M121.9 687.0H129.1M121.9 695.7H129.1" stroke="#ff0000" stroke-width="1.8" fill="none"/>
<path d="M143.1 638.5L148.0 643.4L143.1 648.2L138.3 643.4Z" fill="none" stroke="#0000ff" stroke-width="1.45"/>
<path d="M143.1 659.3L148.0 664.1L143.1 669.0L138.3 664.1Z" fill="none" stroke="#0000ff" stroke-width="1.45"/>
<path d="M140.9 665.1L145.8 669.9L140.9 674.8L136.1 669.9Z" fill="none" stroke="#0000ff" stroke-width="1.45"/>
<path d="M145.3 665.8L150.1 670.6L145.3 675.5L140.4 670.6Z" fill="none" stroke="#0000ff" stroke-width="1.45"/>
<path d="M142.4 670.9L147.2 675.7L142.4 680.6L137.5 675.7Z" fill="none" stroke="#0000ff" stroke-width="1.45"/>
<path d="M142.4 674.5L147.2 679.3L142.4 684.2L137.5 679.3Z" fill="none" stroke="#0000ff" stroke-width="1.45"/>
<path d="M145.3 681.0L150.1 685.9L145.3 690.7L140.4 685.9Z" fill="none" stroke="#0000ff" stroke-width="1.45"/>
<path d="M143.1 684.7L148.0 689.5L143.1 694.4L138.3 689.5Z" fill="none" stroke="#0000ff" stroke-width="1.45"/>
<path d="M141.6 690.5L146.5 695.3L141.6 700.2L136.8 695.3Z" fill="none" stroke="#0000ff" stroke-width="1.45"/>
<line x1="137.3" y1="679.1" x2="161.3" y2="679.1" stroke="#0000ff" stroke-width="1.8"/>
<path d="M155.3 675.0V683.0M151.7 675.0H158.9M151.7 683.0H158.9" stroke="#0000ff" stroke-width="1.8" fill="none"/>
<path d="M63.0 633.1V781.9H162.6" fill="none" stroke="#000" stroke-width="2.3"/>
<text x="56.3" y="787.9" font-size="19.5" fill="#000" stroke="#000" stroke-width="0.35" text-anchor="end" font-weight="normal" >0</text>
<line x1="63.0" y1="753.8" x2="69.2" y2="753.8" stroke="#000" stroke-width="2"/>
<text x="56.3" y="759.78" font-size="19.5" fill="#000" stroke="#000" stroke-width="0.35" text-anchor="end" font-weight="normal" >4</text>
<line x1="63.0" y1="725.7" x2="69.2" y2="725.7" stroke="#000" stroke-width="2"/>
<text x="56.3" y="731.66" font-size="19.5" fill="#000" stroke="#000" stroke-width="0.35" text-anchor="end" font-weight="normal" >8</text>
<line x1="63.0" y1="697.5" x2="69.2" y2="697.5" stroke="#000" stroke-width="2"/>
<text x="56.3" y="703.54" font-size="19.5" fill="#000" stroke="#000" stroke-width="0.35" text-anchor="end" font-weight="normal" >12</text>
<line x1="63.0" y1="669.4" x2="69.2" y2="669.4" stroke="#000" stroke-width="2"/>
<text x="56.3" y="675.42" font-size="19.5" fill="#000" stroke="#000" stroke-width="0.35" text-anchor="end" font-weight="normal" >16</text>
<line x1="63.0" y1="641.3" x2="69.2" y2="641.3" stroke="#000" stroke-width="2"/>
<text x="56.3" y="647.3" font-size="19.5" fill="#000" stroke="#000" stroke-width="0.35" text-anchor="end" font-weight="normal" >20</text>
<line x1="63.0" y1="767.8" x2="66.0" y2="767.8" stroke="#000" stroke-width="2"/>
<line x1="63.0" y1="739.7" x2="66.0" y2="739.7" stroke="#000" stroke-width="2"/>
<line x1="63.0" y1="711.6" x2="66.0" y2="711.6" stroke="#000" stroke-width="2"/>
<line x1="63.0" y1="683.5" x2="66.0" y2="683.5" stroke="#000" stroke-width="2"/>
<line x1="63.0" y1="655.4" x2="66.0" y2="655.4" stroke="#000" stroke-width="2"/>
<line x1="243.6" y1="732.5" x2="334.5" y2="732.5" stroke="#8c8c8c" stroke-width="1.2" stroke-dasharray="4.3 4.25"/>
<line x1="243.6" y1="683.0" x2="334.5" y2="683.0" stroke="#8c8c8c" stroke-width="1.2" stroke-dasharray="4.3 4.25"/>
<line x1="243.6" y1="633.6" x2="334.5" y2="633.6" stroke="#8c8c8c" stroke-width="1.2" stroke-dasharray="4.3 4.25"/>
<path d="M256.3 670.7L261.2 675.6L256.3 680.4L251.5 675.6Z" fill="none" stroke="#000000" stroke-width="1.45"/>
<path d="M254.9 678.7L259.7 683.5L254.9 688.4L250.0 683.5Z" fill="none" stroke="#000000" stroke-width="1.45"/>
<path d="M257.8 680.1L262.6 685.0L257.8 689.8L252.9 685.0Z" fill="none" stroke="#000000" stroke-width="1.45"/>
<path d="M254.1 681.6L259.0 686.4L254.1 691.3L249.3 686.4Z" fill="none" stroke="#000000" stroke-width="1.45"/>
<path d="M256.3 685.2L261.2 690.1L256.3 694.9L251.5 690.1Z" fill="none" stroke="#000000" stroke-width="1.45"/>
<path d="M254.9 686.7L259.7 691.5L254.9 696.4L250.0 691.5Z" fill="none" stroke="#000000" stroke-width="1.45"/>
<line x1="250.3" y1="685.7" x2="274.3" y2="685.7" stroke="#000000" stroke-width="1.8"/>
<path d="M268.3 684.3V687.2M264.7 684.3H271.9M264.7 687.2H271.9" stroke="#000000" stroke-width="1.8" fill="none"/>
<path d="M286.1 670.7L290.9 675.6L286.1 680.4L281.2 675.6Z" fill="none" stroke="#ff0000" stroke-width="1.45"/>
<path d="M283.9 674.3L288.7 679.2L283.9 684.0L279.0 679.2Z" fill="none" stroke="#ff0000" stroke-width="1.45"/>
<path d="M287.5 676.5L292.4 681.4L287.5 686.2L282.7 681.4Z" fill="none" stroke="#ff0000" stroke-width="1.45"/>
<path d="M285.3 678.7L290.2 683.5L285.3 688.4L280.5 683.5Z" fill="none" stroke="#ff0000" stroke-width="1.45"/>
<path d="M283.9 681.6L288.7 686.4L283.9 691.3L279.0 686.4Z" fill="none" stroke="#ff0000" stroke-width="1.45"/>
<path d="M286.1 688.1L290.9 693.0L286.1 697.8L281.2 693.0Z" fill="none" stroke="#ff0000" stroke-width="1.45"/>
<line x1="280.0" y1="683.5" x2="304.0" y2="683.5" stroke="#ff0000" stroke-width="1.8"/>
<path d="M298.0 682.4V685.0M294.4 682.4H301.6M294.4 685.0H301.6" stroke="#ff0000" stroke-width="1.8" fill="none"/>
<path d="M315.5 653.3L320.4 658.1L315.5 663.0L310.7 658.1Z" fill="none" stroke="#0000ff" stroke-width="1.45"/>
<path d="M315.8 669.3L320.7 674.1L315.8 679.0L311.0 674.1Z" fill="none" stroke="#0000ff" stroke-width="1.45"/>
<path d="M312.9 671.4L317.8 676.3L312.9 681.1L308.1 676.3Z" fill="none" stroke="#0000ff" stroke-width="1.45"/>
<path d="M318.0 673.6L322.9 678.5L318.0 683.3L313.2 678.5Z" fill="none" stroke="#0000ff" stroke-width="1.45"/>
<path d="M314.4 675.8L319.2 680.6L314.4 685.5L309.5 680.6Z" fill="none" stroke="#0000ff" stroke-width="1.45"/>
<path d="M314.4 680.1L319.2 685.0L314.4 689.8L309.5 685.0Z" fill="none" stroke="#0000ff" stroke-width="1.45"/>
<path d="M318.7 683.0L323.6 687.9L318.7 692.7L313.9 687.9Z" fill="none" stroke="#0000ff" stroke-width="1.45"/>
<path d="M315.5 688.9L320.4 693.7L315.5 698.6L310.7 693.7Z" fill="none" stroke="#0000ff" stroke-width="1.45"/>
<line x1="310.0" y1="679.9" x2="334.0" y2="679.9" stroke="#0000ff" stroke-width="1.8"/>
<path d="M328.0 677.7V682.8M324.4 677.7H331.6M324.4 682.8H331.6" stroke="#0000ff" stroke-width="1.8" fill="none"/>
<path d="M235.5 633.6V781.9H334.5" fill="none" stroke="#000" stroke-width="2.3"/>
<text x="228.8" y="787.9" font-size="19.5" fill="#000" stroke="#000" stroke-width="0.35" text-anchor="end" font-weight="normal" >0</text>
<line x1="235.5" y1="732.5" x2="241.7" y2="732.5" stroke="#000" stroke-width="2"/>
<text x="228.8" y="738.4666666666667" font-size="19.5" fill="#000" stroke="#000" stroke-width="0.35" text-anchor="end" font-weight="normal" >20</text>
<line x1="235.5" y1="683.0" x2="241.7" y2="683.0" stroke="#000" stroke-width="2"/>
<text x="228.8" y="689.0333333333333" font-size="19.5" fill="#000" stroke="#000" stroke-width="0.35" text-anchor="end" font-weight="normal" >40</text>
<line x1="235.5" y1="633.6" x2="241.7" y2="633.6" stroke="#000" stroke-width="2"/>
<text x="228.8" y="639.6" font-size="19.5" fill="#000" stroke="#000" stroke-width="0.35" text-anchor="end" font-weight="normal" >60</text>
<line x1="235.5" y1="757.2" x2="238.5" y2="757.2" stroke="#000" stroke-width="2"/>
<line x1="235.5" y1="707.8" x2="238.5" y2="707.8" stroke="#000" stroke-width="2"/>
<line x1="235.5" y1="658.3" x2="238.5" y2="658.3" stroke="#000" stroke-width="2"/>
<line x1="416.0" y1="752.2" x2="507.0" y2="752.2" stroke="#8c8c8c" stroke-width="1.2" stroke-dasharray="4.3 4.25"/>
<line x1="416.0" y1="722.6" x2="507.0" y2="722.6" stroke="#8c8c8c" stroke-width="1.2" stroke-dasharray="4.3 4.25"/>
<line x1="416.0" y1="692.9" x2="507.0" y2="692.9" stroke="#8c8c8c" stroke-width="1.2" stroke-dasharray="4.3 4.25"/>
<line x1="416.0" y1="663.3" x2="507.0" y2="663.3" stroke="#8c8c8c" stroke-width="1.2" stroke-dasharray="4.3 4.25"/>
<line x1="416.0" y1="633.6" x2="507.0" y2="633.6" stroke="#8c8c8c" stroke-width="1.2" stroke-dasharray="4.3 4.25"/>
<path d="M428.6 678.4L433.4 683.2L428.6 688.1L423.7 683.2Z" fill="none" stroke="#000000" stroke-width="1.45"/>
<path d="M428.6 684.9L433.4 689.8L428.6 694.6L423.7 689.8Z" fill="none" stroke="#000000" stroke-width="1.45"/>
<path d="M430.8 689.3L435.6 694.1L430.8 699.0L425.9 694.1Z" fill="none" stroke="#000000" stroke-width="1.45"/>
<path d="M426.4 690.7L431.3 695.6L426.4 700.4L421.6 695.6Z" fill="none" stroke="#000000" stroke-width="1.45"/>
<path d="M428.6 694.3L433.4 699.2L428.6 704.0L423.7 699.2Z" fill="none" stroke="#000000" stroke-width="1.45"/>
<path d="M427.9 700.1L432.7 705.0L427.9 709.8L423.0 705.0Z" fill="none" stroke="#000000" stroke-width="1.45"/>
<path d="M428.6 708.9L433.4 713.7L428.6 718.6L423.7 713.7Z" fill="none" stroke="#000000" stroke-width="1.45"/>
<line x1="422.7" y1="698.9" x2="446.7" y2="698.9" stroke="#000000" stroke-width="1.8"/>
<path d="M440.7 696.3V701.4M437.1 696.3H444.3M437.1 701.4H444.3" stroke="#000000" stroke-width="1.8" fill="none"/>
<path d="M458.6 671.4L463.5 676.3L458.6 681.1L453.8 676.3Z" fill="none" stroke="#ff0000" stroke-width="1.45"/>
<path d="M458.6 677.6L463.5 682.5L458.6 687.3L453.8 682.5Z" fill="none" stroke="#ff0000" stroke-width="1.45"/>
<path d="M459.1 689.3L463.9 694.1L459.1 699.0L454.2 694.1Z" fill="none" stroke="#ff0000" stroke-width="1.45"/>
<path d="M456.9 692.6L461.7 697.4L456.9 702.3L452.0 697.4Z" fill="none" stroke="#ff0000" stroke-width="1.45"/>
<path d="M457.6 700.1L462.5 705.0L457.6 709.8L452.8 705.0Z" fill="none" stroke="#ff0000" stroke-width="1.45"/>
<path d="M459.8 704.5L464.6 709.3L459.8 714.2L454.9 709.3Z" fill="none" stroke="#ff0000" stroke-width="1.45"/>
<path d="M458.3 712.5L463.2 717.3L458.3 722.2L453.5 717.3Z" fill="none" stroke="#ff0000" stroke-width="1.45"/>
<line x1="452.7" y1="701.4" x2="476.7" y2="701.4" stroke="#ff0000" stroke-width="1.8"/>
<path d="M470.7 698.0V704.3M467.1 698.0H474.3M467.1 704.3H474.3" stroke="#ff0000" stroke-width="1.8" fill="none"/>
<path d="M488.5 658.8L493.4 663.6L488.5 668.5L483.7 663.6Z" fill="none" stroke="#0000ff" stroke-width="1.45"/>
<path d="M487.4 663.1L492.2 668.0L487.4 672.8L482.5 668.0Z" fill="none" stroke="#0000ff" stroke-width="1.45"/>
<path d="M488.1 676.9L493.0 681.8L488.1 686.6L483.3 681.8Z" fill="none" stroke="#0000ff" stroke-width="1.45"/>
<path d="M488.1 687.8L493.0 692.7L488.1 697.5L483.3 692.7Z" fill="none" stroke="#0000ff" stroke-width="1.45"/>
<path d="M485.9 690.7L490.8 695.6L485.9 700.4L481.1 695.6Z" fill="none" stroke="#0000ff" stroke-width="1.45"/>
<path d="M489.6 693.6L494.4 698.5L489.6 703.3L484.7 698.5Z" fill="none" stroke="#0000ff" stroke-width="1.45"/>
<path d="M486.6 694.3L491.5 699.2L486.6 704.0L481.8 699.2Z" fill="none" stroke="#0000ff" stroke-width="1.45"/>
<path d="M488.1 701.6L493.0 706.4L488.1 711.3L483.3 706.4Z" fill="none" stroke="#0000ff" stroke-width="1.45"/>
<path d="M488.8 706.7L493.7 711.5L488.8 716.4L484.0 711.5Z" fill="none" stroke="#0000ff" stroke-width="1.45"/>
<line x1="482.4" y1="695.1" x2="506.4" y2="695.1" stroke="#0000ff" stroke-width="1.8"/>
<path d="M500.4 691.2V699.2M496.8 691.2H504.0M496.8 699.2H504.0" stroke="#0000ff" stroke-width="1.8" fill="none"/>
<path d="M407.9 633.6V781.9H507.0" fill="none" stroke="#000" stroke-width="2.3"/>
<text x="401.2" y="787.9" font-size="19.5" fill="#000" stroke="#000" stroke-width="0.35" text-anchor="end" font-weight="normal" >0</text>
<line x1="407.9" y1="752.2" x2="414.1" y2="752.2" stroke="#000" stroke-width="2"/>
<text x="401.2" y="758.24" font-size="19.5" fill="#000" stroke="#000" stroke-width="0.35" text-anchor="end" font-weight="normal" >20</text>
<line x1="407.9" y1="722.6" x2="414.1" y2="722.6" stroke="#000" stroke-width="2"/>
<text x="401.2" y="728.58" font-size="19.5" fill="#000" stroke="#000" stroke-width="0.35" text-anchor="end" font-weight="normal" >40</text>
<line x1="407.9" y1="692.9" x2="414.1" y2="692.9" stroke="#000" stroke-width="2"/>
<text x="401.2" y="698.92" font-size="19.5" fill="#000" stroke="#000" stroke-width="0.35" text-anchor="end" font-weight="normal" >60</text>
<line x1="407.9" y1="663.3" x2="414.1" y2="663.3" stroke="#000" stroke-width="2"/>
<text x="401.2" y="669.26" font-size="19.5" fill="#000" stroke="#000" stroke-width="0.35" text-anchor="end" font-weight="normal" >80</text>
<line x1="407.9" y1="633.6" x2="414.1" y2="633.6" stroke="#000" stroke-width="2"/>
<text x="401.2" y="639.6" font-size="19.5" fill="#000" stroke="#000" stroke-width="0.35" text-anchor="end" font-weight="normal" >100</text>
<line x1="407.9" y1="767.1" x2="410.9" y2="767.1" stroke="#000" stroke-width="2"/>
<line x1="407.9" y1="737.4" x2="410.9" y2="737.4" stroke="#000" stroke-width="2"/>
<line x1="407.9" y1="707.8" x2="410.9" y2="707.8" stroke="#000" stroke-width="2"/>
<line x1="407.9" y1="678.1" x2="410.9" y2="678.1" stroke="#000" stroke-width="2"/>
<line x1="407.9" y1="648.4" x2="410.9" y2="648.4" stroke="#000" stroke-width="2"/>
<line x1="588.6" y1="744.8" x2="679.6" y2="744.8" stroke="#8c8c8c" stroke-width="1.2" stroke-dasharray="4.3 4.25"/>
<line x1="588.6" y1="707.8" x2="679.6" y2="707.8" stroke="#8c8c8c" stroke-width="1.2" stroke-dasharray="4.3 4.25"/>
<line x1="588.6" y1="670.7" x2="679.6" y2="670.7" stroke="#8c8c8c" stroke-width="1.2" stroke-dasharray="4.3 4.25"/>
<line x1="588.6" y1="633.6" x2="679.6" y2="633.6" stroke="#8c8c8c" stroke-width="1.2" stroke-dasharray="4.3 4.25"/>
<path d="M601.2 664.7L606.0 669.6L601.2 674.4L596.3 669.6Z" fill="none" stroke="#000000" stroke-width="1.45"/>
<path d="M600.9 682.2L605.7 687.0L600.9 691.9L596.0 687.0Z" fill="none" stroke="#000000" stroke-width="1.45"/>
<path d="M603.0 685.1L607.9 689.9L603.0 694.8L598.2 689.9Z" fill="none" stroke="#000000" stroke-width="1.45"/>
<path d="M598.7 687.2L603.5 692.1L598.7 696.9L593.8 692.1Z" fill="none" stroke="#000000" stroke-width="1.45"/>
<path d="M602.3 690.1L607.2 695.0L602.3 699.8L597.5 695.0Z" fill="none" stroke="#000000" stroke-width="1.45"/>
<path d="M599.4 694.5L604.3 699.3L599.4 704.2L594.6 699.3Z" fill="none" stroke="#000000" stroke-width="1.45"/>
<line x1="594.6" y1="691.4" x2="618.6" y2="691.4" stroke="#000000" stroke-width="1.8"/>
<path d="M612.6 688.0V694.3M609.0 688.0H616.2M609.0 694.3H616.2" stroke="#000000" stroke-width="1.8" fill="none"/>
<path d="M630.6 668.4L635.5 673.2L630.6 678.1L625.8 673.2Z" fill="none" stroke="#ff0000" stroke-width="1.45"/>
<path d="M632.1 670.5L636.9 675.4L632.1 680.2L627.2 675.4Z" fill="none" stroke="#ff0000" stroke-width="1.45"/>
<path d="M628.4 677.8L633.3 682.7L628.4 687.5L623.6 682.7Z" fill="none" stroke="#ff0000" stroke-width="1.45"/>
<path d="M632.8 682.9L637.6 687.7L632.8 692.6L627.9 687.7Z" fill="none" stroke="#ff0000" stroke-width="1.45"/>
<path d="M629.9 685.1L634.7 689.9L629.9 694.8L625.0 689.9Z" fill="none" stroke="#ff0000" stroke-width="1.45"/>
<path d="M631.3 693.0L636.2 697.9L631.3 702.7L626.5 697.9Z" fill="none" stroke="#ff0000" stroke-width="1.45"/>
<path d="M632.1 697.4L636.9 702.2L632.1 707.1L627.2 702.2Z" fill="none" stroke="#ff0000" stroke-width="1.45"/>
<path d="M628.4 700.3L633.3 705.2L628.4 710.0L623.6 705.2Z" fill="none" stroke="#ff0000" stroke-width="1.45"/>
<path d="M630.6 710.5L635.5 715.3L630.6 720.2L625.8 715.3Z" fill="none" stroke="#ff0000" stroke-width="1.45"/>
<line x1="624.6" y1="692.4" x2="648.6" y2="692.4" stroke="#ff0000" stroke-width="1.8"/>
<path d="M642.6 689.2V696.2M639.0 689.2H646.2M639.0 696.2H646.2" stroke="#ff0000" stroke-width="1.8" fill="none"/>
<path d="M660.4 657.5L665.2 662.3L660.4 667.2L655.5 662.3Z" fill="none" stroke="#0000ff" stroke-width="1.45"/>
<path d="M661.1 666.9L666.0 671.8L661.1 676.6L656.3 671.8Z" fill="none" stroke="#0000ff" stroke-width="1.45"/>
<path d="M659.6 672.0L664.5 676.9L659.6 681.7L654.8 676.9Z" fill="none" stroke="#0000ff" stroke-width="1.45"/>
<path d="M661.5 680.0L666.4 684.8L661.5 689.7L656.7 684.8Z" fill="none" stroke="#0000ff" stroke-width="1.45"/>
<path d="M658.9 682.9L663.8 687.7L658.9 692.6L654.1 687.7Z" fill="none" stroke="#0000ff" stroke-width="1.45"/>
<path d="M661.8 686.5L666.7 691.4L661.8 696.2L657.0 691.4Z" fill="none" stroke="#0000ff" stroke-width="1.45"/>
<path d="M663.3 694.5L668.1 699.3L663.3 704.2L658.4 699.3Z" fill="none" stroke="#0000ff" stroke-width="1.45"/>
<path d="M658.9 695.9L663.8 700.8L658.9 705.6L654.1 700.8Z" fill="none" stroke="#0000ff" stroke-width="1.45"/>
<path d="M660.4 704.7L665.2 709.5L660.4 714.4L655.5 709.5Z" fill="none" stroke="#0000ff" stroke-width="1.45"/>
<line x1="654.4" y1="689.5" x2="678.4" y2="689.5" stroke="#0000ff" stroke-width="1.8"/>
<path d="M672.4 686.0V693.3M668.8 686.0H676.0M668.8 693.3H676.0" stroke="#0000ff" stroke-width="1.8" fill="none"/>
<path d="M580.5 633.6V781.9H679.6" fill="none" stroke="#000" stroke-width="2.3"/>
<text x="573.8" y="787.9" font-size="19.5" fill="#000" stroke="#000" stroke-width="0.35" text-anchor="end" font-weight="normal" >0</text>
<line x1="580.5" y1="744.8" x2="586.7" y2="744.8" stroke="#000" stroke-width="2"/>
<text x="573.8" y="750.825" font-size="19.5" fill="#000" stroke="#000" stroke-width="0.35" text-anchor="end" font-weight="normal" >20</text>
<line x1="580.5" y1="707.8" x2="586.7" y2="707.8" stroke="#000" stroke-width="2"/>
<text x="573.8" y="713.75" font-size="19.5" fill="#000" stroke="#000" stroke-width="0.35" text-anchor="end" font-weight="normal" >40</text>
<line x1="580.5" y1="670.7" x2="586.7" y2="670.7" stroke="#000" stroke-width="2"/>
<text x="573.8" y="676.675" font-size="19.5" fill="#000" stroke="#000" stroke-width="0.35" text-anchor="end" font-weight="normal" >60</text>
<line x1="580.5" y1="633.6" x2="586.7" y2="633.6" stroke="#000" stroke-width="2"/>
<text x="573.8" y="639.6" font-size="19.5" fill="#000" stroke="#000" stroke-width="0.35" text-anchor="end" font-weight="normal" >80</text>
<line x1="580.5" y1="763.4" x2="583.5" y2="763.4" stroke="#000" stroke-width="2"/>
<line x1="580.5" y1="726.3" x2="583.5" y2="726.3" stroke="#000" stroke-width="2"/>
<line x1="580.5" y1="689.2" x2="583.5" y2="689.2" stroke="#000" stroke-width="2"/>
<line x1="580.5" y1="652.1" x2="583.5" y2="652.1" stroke="#000" stroke-width="2"/>
<text x="9" y="217.4" font-size="16" fill="#000" stroke="#000" stroke-width="0.35" text-anchor="start" font-weight="bold" >B</text>
<text x="9" y="634.6" font-size="16" fill="#000" stroke="#000" stroke-width="0.35" text-anchor="start" font-weight="bold" >D</text>
<text x="0" y="0" font-size="19.5" stroke="#000" stroke-width="0.35" text-anchor="middle" transform="translate(19.5,293.6) rotate(-90)">V<tspan font-size="14" dy="5">max</tspan><tspan dy="-5"> (V/s)</tspan></text>
<circle cx="3" cy="328.2" r="1.3" fill="#000"/>
<text x="0" y="0" font-size="19.5" stroke="#000" stroke-width="0.35" text-anchor="middle" transform="translate(215.1,293.4) rotate(-90)">APD<tspan font-size="12.6" dy="5">20</tspan><tspan dy="-5"> (ms)</tspan></text>
<text x="0" y="0" font-size="19.5" stroke="#000" stroke-width="0.35" text-anchor="middle" transform="translate(378.6,293.4) rotate(-90)">APD<tspan font-size="12.6" dy="5">50</tspan><tspan dy="-5"> (ms)</tspan></text>
<text x="0" y="0" font-size="19.5" stroke="#000" stroke-width="0.35" text-anchor="middle" transform="translate(548.6,293.4) rotate(-90)">APD<tspan font-size="12.6" dy="5">90</tspan><tspan dy="-5"> (ms)</tspan></text>
<text x="0" y="0" font-size="19.5" stroke="#000" stroke-width="0.35" text-anchor="middle" transform="translate(27,707.7) rotate(-90)">QRS (ms)</text>
<text x="0" y="0" font-size="19.5" stroke="#000" stroke-width="0.35" text-anchor="middle" transform="translate(199.5,707.7) rotate(-90)">PR (ms)</text>
<text x="0" y="0" font-size="19.5" stroke="#000" stroke-width="0.35" text-anchor="middle" transform="translate(367.5,707.7) rotate(-90)">QT (ms)</text>
<text x="0" y="0" font-size="19.5" stroke="#000" stroke-width="0.35" text-anchor="middle" transform="translate(541.5,707.7) rotate(-90)">QTcB (ms)</text>
<rect x="413.5" y="376.7" width="269" height="33.5" fill="none" stroke="#000" stroke-width="1.3"/>
<path d="M425.1 387.8L430.0 392.7L425.1 397.6L420.2 392.7Z" fill="none" stroke="#000000" stroke-width="1.5"/>
<text x="436.3" y="398.0" font-size="15.2" fill="#000" stroke="#000" stroke-width="0.35" text-anchor="start" font-weight="normal" >Vehicle</text>
<path d="M500.8 387.8L505.7 392.7L500.8 397.6L495.9 392.7Z" fill="none" stroke="#ff0000" stroke-width="1.5"/>
<text x="511.7" y="398.0" font-size="15.2" fill="#000" stroke="#000" stroke-width="0.35" text-anchor="start" font-weight="normal" >Fe + PLAC</text>
<path d="M601.4 387.8L606.3 392.7L601.4 397.6L596.5 392.7Z" fill="none" stroke="#0000ff" stroke-width="1.5"/>
<text x="612.2" y="398.0" font-size="15.2" fill="#000" stroke="#000" stroke-width="0.35" text-anchor="start" font-weight="normal" >Fe + AML</text>
<rect x="413.5" y="791.0" width="269" height="33.5" fill="none" stroke="#000" stroke-width="1.3"/>
<path d="M425.1 802.1L430.0 807.0L425.1 811.9L420.2 807.0Z" fill="none" stroke="#000000" stroke-width="1.5"/>
<text x="436.3" y="812.3" font-size="15.2" fill="#000" stroke="#000" stroke-width="0.35" text-anchor="start" font-weight="normal" >Vehicle</text>
<path d="M500.8 802.1L505.7 807.0L500.8 811.9L495.9 807.0Z" fill="none" stroke="#ff0000" stroke-width="1.5"/>
<text x="511.7" y="812.3" font-size="15.2" fill="#000" stroke="#000" stroke-width="0.35" text-anchor="start" font-weight="normal" >Fe + PLAC</text>
<path d="M601.4 802.1L606.3 807.0L601.4 811.9L596.5 807.0Z" fill="none" stroke="#0000ff" stroke-width="1.5"/>
<text x="612.2" y="812.3" font-size="15.2" fill="#000" stroke="#000" stroke-width="0.35" text-anchor="start" font-weight="normal" >Fe + AML</text>
<text x="8.6" y="453.6" font-size="16" fill="#000" stroke="#000" stroke-width="0.35" text-anchor="start" font-weight="bold" >C</text>
<text x="133.5" y="452.5" font-size="18" fill="#000" stroke="#000" stroke-width="0.35" text-anchor="middle" font-weight="normal" >Vehicle</text>
<text x="351" y="452.5" font-size="18" fill="#ff0000" stroke="#ff0000" stroke-width="0.35" text-anchor="middle" font-weight="normal" >Fe + PLAC</text>
<text x="580" y="452.5" font-size="18" fill="#0000ff" stroke="#0000ff" stroke-width="0.35" text-anchor="middle" font-weight="normal" >Fe + AML</text>
<line x1="32" y1="536.4" x2="673" y2="536.4" stroke="#000" stroke-width="1.2" stroke-dasharray="4.8 3.2"/>
<path d="M40.60 535.79C40.97 535.74 42.07 535.47 42.80 535.51C43.53 535.56 44.27 536.09 45.00 536.05C45.73 536.01 46.47 535.33 47.20 535.29C47.93 535.24 48.67 535.74 49.40 535.77C50.13 535.81 50.87 535.62 51.60 535.50C52.33 535.39 53.07 535.06 53.80 535.07C54.53 535.07 55.13 535.97 56.00 535.54C56.87 535.11 58.12 533.87 59.00 532.50C59.88 531.13 60.55 527.38 61.30 527.30C62.05 527.22 62.80 530.38 63.50 532.00C64.20 533.62 64.97 535.83 65.50 537.00C66.03 538.17 65.95 538.92 66.70 539.00C67.45 539.08 69.05 537.93 70.00 537.50C70.95 537.07 71.63 536.57 72.40 536.44C73.17 536.32 73.87 536.82 74.60 536.77C75.33 536.73 76.07 536.31 76.80 536.19C77.53 536.08 78.27 536.05 79.00 536.07C79.73 536.09 80.47 536.23 81.20 536.33C81.93 536.43 82.67 536.77 83.40 536.66C84.13 536.56 84.77 534.65 85.60 535.67C86.43 536.70 88.40 542.80 88.40 542.80C88.40 542.80 89.23 526.80 89.60 522.00C89.97 517.20 90.25 517.47 90.60 514.00C90.95 510.53 91.70 501.20 91.70 501.20C91.70 501.20 92.18 509.20 92.40 515.00C92.62 520.80 92.67 520.22 93.00 536.00C93.33 551.78 94.40 609.70 94.40 609.70C94.40 609.70 95.38 550.60 95.80 536.00C96.22 521.40 96.90 522.10 96.90 522.10C96.90 522.10 97.55 527.73 98.00 530.00C98.45 532.27 99.10 534.79 99.60 535.70C100.10 536.61 100.40 535.40 101.00 535.47C101.60 535.53 102.47 535.91 103.20 536.10C103.93 536.29 104.67 536.59 105.40 536.63C106.13 536.67 106.87 536.39 107.60 536.33C108.33 536.27 109.07 536.13 109.80 536.26C110.53 536.39 111.27 537.13 112.00 537.10C112.73 537.08 113.47 536.11 114.20 536.14C114.93 536.16 115.67 537.16 116.40 537.26C117.13 537.35 117.87 536.81 118.60 536.72C119.33 536.63 120.08 537.03 120.80 536.69C121.52 536.35 122.18 534.98 122.90 534.69C123.62 534.40 124.37 534.77 125.10 534.94C125.83 535.11 126.57 535.75 127.30 535.70C128.03 535.64 128.77 534.71 129.50 534.62C130.23 534.54 130.97 535.11 131.70 535.21C132.43 535.32 133.17 535.32 133.90 535.25C134.63 535.17 135.37 534.81 136.10 534.77C136.83 534.72 137.57 535.09 138.30 534.99C139.03 534.89 139.77 534.31 140.50 534.16C141.23 534.01 141.97 534.46 142.70 534.10C143.43 533.74 144.05 533.42 144.90 532.00C145.75 530.58 147.80 525.60 147.80 525.60C147.80 525.60 149.72 528.93 150.70 531.00C151.68 533.07 153.70 538.00 153.70 538.00C153.70 538.00 155.75 536.52 156.60 536.33C157.45 536.14 158.07 536.87 158.80 536.85C159.53 536.83 160.27 536.39 161.00 536.21C161.73 536.04 162.47 535.83 163.20 535.80C163.93 535.76 164.67 536.04 165.40 535.99C166.13 535.95 166.87 535.70 167.60 535.55C168.33 535.39 169.07 535.05 169.80 535.07C170.53 535.08 171.15 534.50 172.00 535.62C172.85 536.74 174.90 541.80 174.90 541.80C174.90 541.80 175.87 528.03 176.30 523.30C176.73 518.57 177.13 517.22 177.50 513.40C177.87 509.58 178.50 500.40 178.50 500.40C178.50 500.40 178.97 510.37 179.20 516.30C179.43 522.23 179.55 520.65 179.90 536.00C180.25 551.35 181.30 608.40 181.30 608.40C181.30 608.40 182.23 550.77 182.70 536.00C183.17 521.23 184.10 519.80 184.10 519.80C184.10 519.80 185.02 526.63 185.50 529.00C185.98 531.37 186.17 533.00 187.00 534.00C187.83 535.00 189.50 534.46 190.50 535.00C191.50 535.54 192.22 536.98 193.00 537.24C193.78 537.50 194.47 536.62 195.20 536.54C195.93 536.47 196.67 536.78 197.40 536.79C198.13 536.79 198.87 536.57 199.60 536.58C200.33 536.59 201.07 536.86 201.80 536.85C202.53 536.84 203.27 536.69 204.00 536.52C204.73 536.35 205.47 535.84 206.20 535.84C206.93 535.84 207.67 536.61 208.40 536.52C209.13 536.44 209.87 535.50 210.60 535.34C211.33 535.17 212.07 535.47 212.80 535.54C213.53 535.62 214.27 535.90 215.00 535.80C215.73 535.70 216.47 535.03 217.20 534.92C217.93 534.82 218.67 535.25 219.40 535.18C220.13 535.10 220.87 534.50 221.60 534.49C222.33 534.47 223.07 535.00 223.80 535.09C224.53 535.19 225.27 535.13 226.00 535.06C226.73 534.99 227.47 534.70 228.20 534.68C228.93 534.65 229.70 534.95 230.40 534.89C231.10 534.83 232.07 534.40 232.40 534.30" fill="none" stroke="#000000" stroke-width="1.7" stroke-linejoin="round" stroke-linecap="round"/>
<path d="M259.60 536.81C259.97 536.79 261.07 536.79 261.80 536.65C262.53 536.52 263.17 537.29 264.00 536.01C264.83 534.74 266.13 530.54 266.80 529.00C267.47 527.46 268.00 526.80 268.00 526.80C268.00 526.80 270.50 526.40 270.50 526.40C270.50 526.40 271.62 530.85 272.50 533.00C273.38 535.15 275.80 539.30 275.80 539.30C275.80 539.30 277.27 537.49 278.00 537.08C278.73 536.67 279.47 536.83 280.20 536.84C280.93 536.84 281.67 537.06 282.40 537.10C283.13 537.14 283.87 537.19 284.60 537.08C285.33 536.98 286.07 536.58 286.80 536.49C287.53 536.41 288.27 536.67 289.00 536.56C289.73 536.45 290.47 535.87 291.20 535.84C291.93 535.81 292.67 536.30 293.40 536.36C294.13 536.42 295.12 536.25 295.60 536.19C296.08 536.13 295.97 536.90 296.30 536.00C296.63 535.10 297.17 535.27 297.60 530.80C298.03 526.33 298.47 514.18 298.90 509.20C299.33 504.22 299.73 504.03 300.20 500.90C300.67 497.77 301.70 490.40 301.70 490.40C301.70 490.40 302.08 497.80 302.20 505.40C302.32 513.00 302.25 523.83 302.40 536.00C302.55 548.17 303.10 578.40 303.10 578.40C303.10 578.40 303.73 547.53 304.20 536.00C304.67 524.47 305.90 509.20 305.90 509.20C305.90 509.20 307.07 517.53 307.80 520.60C308.53 523.67 309.03 525.80 310.30 527.60C311.57 529.40 313.28 530.35 315.40 531.40C317.52 532.45 320.25 533.33 323.00 533.90C325.75 534.47 329.07 534.53 331.90 534.80C334.73 535.07 336.98 535.37 340.00 535.50C343.02 535.63 346.72 535.63 350.00 535.60C353.28 535.57 357.83 536.23 359.70 535.30C361.57 534.37 360.65 531.55 361.20 530.00C361.75 528.45 363.00 526.00 363.00 526.00C363.00 526.00 365.70 525.80 365.70 525.80C365.70 525.80 366.98 530.92 367.80 533.00C368.62 535.08 370.60 538.30 370.60 538.30C370.60 538.30 372.23 537.27 373.00 536.99C373.77 536.72 374.47 536.82 375.20 536.64C375.93 536.46 376.67 536.05 377.40 535.92C378.13 535.78 378.87 535.83 379.60 535.84C380.33 535.84 381.07 536.06 381.80 535.94C382.53 535.81 383.27 535.20 384.00 535.11C384.73 535.01 385.47 535.40 386.20 535.36C386.93 535.32 387.67 535.00 388.40 534.88C389.13 534.77 390.08 534.63 390.60 534.65C391.12 534.67 391.13 536.28 391.50 535.00C391.87 533.72 392.38 532.00 392.80 527.00C393.22 522.00 393.63 510.33 394.00 505.00C394.37 499.67 394.58 498.37 395.00 495.00C395.42 491.63 396.50 484.80 396.50 484.80C396.50 484.80 396.95 491.47 397.10 500.00C397.25 508.53 397.18 523.58 397.40 536.00C397.62 548.42 398.40 574.50 398.40 574.50C398.40 574.50 399.07 546.80 399.50 536.00C399.93 525.20 401.00 509.70 401.00 509.70C401.00 509.70 402.15 517.33 402.80 520.00C403.45 522.67 403.87 523.95 404.90 525.70C405.93 527.45 407.42 529.18 409.00 530.50C410.58 531.82 411.17 532.72 414.40 533.60C417.63 534.48 424.13 535.37 428.40 535.80C432.67 536.23 436.23 536.08 440.00 536.20C443.77 536.32 449.17 536.45 451.00 536.50" fill="none" stroke="#ff0000" stroke-width="1.7" stroke-linejoin="round" stroke-linecap="round"/>
<path d="M478.00 534.87C478.37 535.02 479.47 535.72 480.20 535.74C480.93 535.76 481.67 535.08 482.40 534.98C483.13 534.89 483.87 535.08 484.60 535.14C485.33 535.20 486.07 535.20 486.80 535.33C487.53 535.46 488.27 535.98 489.00 535.92C489.73 535.86 490.28 535.30 491.20 534.98C492.12 534.66 493.70 535.66 494.50 534.00C495.30 532.34 495.55 528.33 496.00 525.00C496.45 521.67 496.80 516.38 497.20 514.00C497.60 511.62 498.00 510.70 498.40 510.70C498.80 510.70 499.17 511.45 499.60 514.00C500.03 516.55 500.48 522.42 501.00 526.00C501.52 529.58 502.15 533.40 502.70 535.50C503.25 537.60 504.30 538.60 504.30 538.60C504.30 538.60 506.18 536.81 507.00 536.45C507.82 536.09 508.47 536.41 509.20 536.45C509.93 536.50 510.67 536.68 511.40 536.69C512.13 536.71 512.87 536.57 513.60 536.54C514.33 536.50 515.07 536.61 515.80 536.49C516.53 536.36 517.27 535.91 518.00 535.81C518.73 535.70 519.47 535.87 520.20 535.85C520.93 535.83 521.80 535.39 522.40 535.70C523.00 536.01 523.80 537.70 523.80 537.70C523.80 537.70 524.88 536.73 525.30 530.50C525.72 524.27 525.95 510.38 526.30 500.30C526.65 490.22 526.97 476.30 527.40 470.00C527.83 463.70 528.45 461.23 528.90 462.50C529.35 463.77 529.83 465.38 530.10 477.60C530.37 489.82 530.33 521.95 530.50 535.80C530.67 549.65 530.92 554.42 531.10 560.70C531.28 566.98 531.60 573.50 531.60 573.50C531.60 573.50 532.15 560.77 532.40 553.10C532.65 545.43 532.78 533.28 533.10 527.50C533.42 521.72 533.80 519.42 534.30 518.40C534.80 517.38 535.28 519.52 536.10 521.40C536.92 523.28 537.93 527.57 539.20 529.70C540.47 531.83 542.20 533.07 543.70 534.20C545.20 535.33 546.32 535.98 548.20 536.50C550.08 537.02 553.53 537.07 555.00 537.30C556.47 537.53 556.30 537.80 557.00 537.88C557.70 537.97 558.47 537.99 559.20 537.82C559.93 537.65 560.67 537.05 561.40 536.88C562.13 536.70 562.87 536.80 563.60 536.76C564.33 536.73 565.07 536.72 565.80 536.68C566.53 536.65 567.27 536.55 568.00 536.55C568.73 536.54 569.47 536.65 570.20 536.66C570.93 536.67 571.67 536.71 572.40 536.63C573.13 536.54 573.87 536.31 574.60 536.16C575.33 536.02 576.07 535.79 576.80 535.77C577.53 535.75 578.27 536.03 579.00 536.04C579.73 536.06 580.47 535.88 581.20 535.86C581.93 535.84 582.67 535.86 583.40 535.92C584.13 535.97 584.87 536.19 585.60 536.17C586.33 536.14 586.98 536.29 587.80 535.77C588.62 535.24 589.80 534.96 590.50 533.00C591.20 531.04 591.55 527.08 592.00 524.00C592.45 520.92 592.83 516.58 593.20 514.50C593.57 512.42 593.85 511.50 594.20 511.50C594.55 511.50 594.87 512.08 595.30 514.50C595.73 516.92 596.30 522.50 596.80 526.00C597.30 529.50 597.77 533.17 598.30 535.50C598.83 537.83 600.00 540.00 600.00 540.00C600.00 540.00 601.30 537.95 602.00 537.52C602.70 537.08 603.47 537.42 604.20 537.36C604.93 537.31 605.67 537.35 606.40 537.17C607.13 536.99 607.87 536.34 608.60 536.29C609.33 536.24 610.07 536.85 610.80 536.88C611.53 536.92 612.27 536.60 613.00 536.51C613.73 536.42 614.47 536.43 615.20 536.35C615.93 536.27 616.62 535.91 617.40 536.02C618.18 536.13 619.90 537.00 619.90 537.00C619.90 537.00 620.65 535.00 621.00 528.00C621.35 521.00 621.67 504.67 622.00 495.00C622.33 485.33 622.63 475.25 623.00 470.00C623.37 464.75 623.80 462.17 624.20 463.50C624.60 464.83 625.13 465.92 625.40 478.00C625.67 490.08 625.65 522.00 625.80 536.00C625.95 550.00 626.13 555.43 626.30 562.00C626.47 568.57 626.80 575.40 626.80 575.40C626.80 575.40 627.33 562.90 627.60 555.00C627.87 547.10 628.07 534.08 628.40 528.00C628.73 521.92 629.08 519.67 629.60 518.50C630.12 517.33 630.68 519.25 631.50 521.00C632.32 522.75 633.47 526.97 634.50 529.00C635.53 531.03 636.45 531.95 637.70 533.20C638.95 534.45 640.38 535.60 642.00 536.50C643.62 537.40 647.40 538.60 647.40 538.60C647.40 538.60 649.20 537.19 650.00 536.89C650.80 536.59 651.47 536.87 652.20 536.79C652.93 536.70 653.67 536.38 654.40 536.38C655.13 536.38 655.87 536.84 656.60 536.80C657.33 536.76 658.07 536.25 658.80 536.12C659.53 535.98 660.27 536.02 661.00 536.01C661.73 536.00 662.47 536.06 663.20 536.04C663.93 536.02 664.67 535.90 665.40 535.88C666.13 535.87 666.88 535.93 667.60 535.95C668.32 535.97 669.35 535.99 669.70 536.00" fill="none" stroke="#0000ff" stroke-width="1.7" stroke-linejoin="round" stroke-linecap="round"/>
<text x="63" y="521.5" font-size="15" fill="#000" stroke="#000" stroke-width="0.35" text-anchor="middle" font-weight="normal" >P</text>
<text x="92.8" y="495.8" font-size="15" fill="#000" stroke="#000" stroke-width="0.35" text-anchor="middle" font-weight="normal" >R</text>
<text x="272.7" y="521.2" font-size="15" fill="#000" stroke="#000" stroke-width="0.35" text-anchor="middle" font-weight="normal" >P</text>
<text x="304.6" y="487" font-size="15" fill="#000" stroke="#000" stroke-width="0.35" text-anchor="middle" font-weight="normal" >R</text>
<text x="497.3" y="505" font-size="15" fill="#000" stroke="#000" stroke-width="0.35" text-anchor="middle" font-weight="normal" >P</text>
<text x="528.5" y="457.6" font-size="15" fill="#000" stroke="#000" stroke-width="0.35" text-anchor="middle" font-weight="normal" >R</text>
<line x1="562.4" y1="583.5" x2="643.9" y2="583.5" stroke="#000" stroke-width="2.4"/>
<text x="603" y="601" font-size="18" fill="#000" stroke="#000" stroke-width="0.35" text-anchor="middle" font-weight="normal" >100 ms</text>
</svg></body></html>
